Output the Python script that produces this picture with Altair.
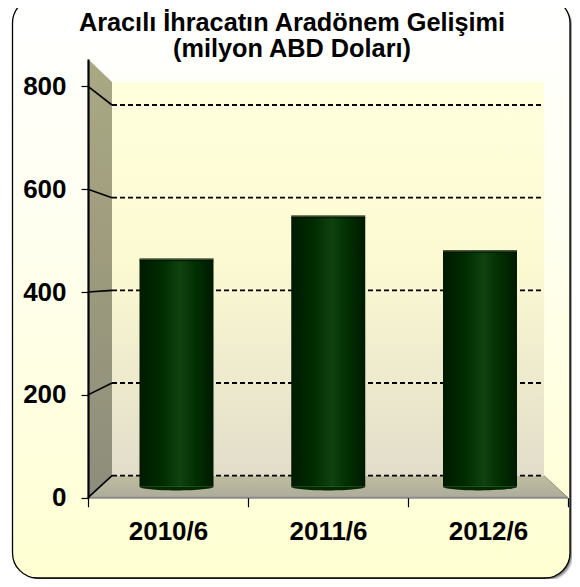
import altair as alt
import pandas as pd

categories = ["2010/6", "2011/6", "2012/6"]
bar_values = [464, 552, 481]
ticks = [0, 200, 400, 600, 800]
title_lines = ["Aracılı İhracatın Aradönem Gelişimi", "(milyon ABD Doları)"]

# projection of the pseudo-3D box, in plot pixels (origin = top of the front axis)
W, H = 480, 438.7
FRONT_MAX = 853.4
BACK_RANGE = [416.7, 46]
MID_RANGE = [427.7, 36.5]
DEPTH = 24

front_scale = alt.Scale(domain=[0, FRONT_MAX], range=[H, 0], nice=False, zero=False)
mid_scale = alt.Scale(domain=[0, 800], range=MID_RANGE, nice=False, zero=False)
back_scale = alt.Scale(domain=[0, 800], range=BACK_RANGE, nice=False, zero=False)


def grad(stops, vertical=True):
    return alt.LinearGradient(
        gradient="linear",
        x1=0, y1=0,
        x2=0 if vertical else 1,
        y2=1 if vertical else 0,
        stops=[alt.GradientStop(offset=o, color=c) for o, c in stops],
    )


def rect(x, x2, y, y2, **kw):
    return alt.Chart(pd.DataFrame({"a": [0]})).mark_rect(**kw).encode(
        x=alt.value(x), x2=alt.value(x2), y=alt.value(y), y2=alt.value(y2)
    )


CARD = (-75.5, 482, -61, 519)
shadows = [
    rect(CARD[0] + 1 + d, CARD[1] + d, CARD[2] + 1 + d, CARD[3] + d,
         cornerRadius=25, fill="#000000", opacity=op)
    for d, op in [(3, 0.15), (2, 0.25), (1, 0.35)]
]
card = rect(*CARD, cornerRadius=25, stroke="#000000", strokeWidth=1.3,
            fill=grad([(0, "#FFFFFF"), (0.3, "#FFFFF4"), (1, "#FFFFD2")]))

wall_df = pd.DataFrame({
    "x": [0, DEPTH],
    "top": [0, 23],
    "bottom": [H, BACK_RANGE[0]],
})
left_wall = alt.Chart(wall_df).mark_area(
    fill=grad([(0, "#AAA984"), (0.5, "#9C9A7C"), (1, "#8E8D7C")]), line=False
).encode(
    x=alt.X("x:Q", scale=None, axis=None),
    y=alt.Y("top:Q", scale=None, axis=None),
    y2="bottom:Q",
)

back_wall = rect(DEPTH, W - DEPTH, 23, BACK_RANGE[0],
                 fill=grad([(0, "#FFFFDD"), (0.45, "#FCFAD2"), (1, "#E1DDCA")]))

floor_df = pd.DataFrame({
    "x": [0, DEPTH, W - DEPTH, W],
    "top": [H, BACK_RANGE[0], BACK_RANGE[0], H],
    "bottom": [H, H, H, H],
})
floor = alt.Chart(floor_df).mark_area(
    fill=grad([(0, "#C0BE9F"), (1, "#ADAB9B")]), line=False
).encode(
    x=alt.X("x:Q", scale=None, axis=None),
    y=alt.Y("top:Q", scale=None, axis=None),
    y2="bottom:Q",
)
floor_edge = alt.Chart(floor_df.iloc[[0, 3]]).mark_line(color="#8A8A8E", strokeWidth=2).encode(
    x=alt.X("x:Q", scale=None, axis=None),
    y=alt.Y("bottom:Q", scale=None, axis=None),
)
floor_diag = alt.Chart(floor_df.iloc[[0, 1]]).mark_line(color="#55554A", strokeWidth=1).encode(
    x=alt.X("x:Q", scale=None, axis=None),
    y=alt.Y("top:Q", scale=None, axis=None),
)
floor_diag_r = alt.Chart(floor_df.iloc[[2, 3]]).mark_line(color="#8F8E80", strokeWidth=1).encode(
    x=alt.X("x:Q", scale=None, axis=None),
    y=alt.Y("top:Q", scale=None, axis=None),
)

tick_df = pd.DataFrame({"tick": ticks})
tick_df["end"] = [
    (H - (BACK_RANGE[0] + (BACK_RANGE[1] - BACK_RANGE[0]) * t / 800)) / H * FRONT_MAX
    for t in ticks
]

grid = alt.Chart(tick_df).mark_rule(
    color="#000000", strokeWidth=1.8, strokeDash=[5, 3]
).encode(
    y=alt.Y("tick:Q", scale=back_scale, axis=None),
    x=alt.value(DEPTH),
    x2=alt.value(W - DEPTH - 2),
)
slants = alt.Chart(tick_df).mark_rule(color="#000000", strokeWidth=1.6).encode(
    x=alt.value(0),
    x2=alt.value(DEPTH),
    y=alt.Y("tick:Q", scale=front_scale, axis=None),
    y2="end:Q",
)

axes = alt.Chart(tick_df).mark_rule(opacity=0).encode(
    y=alt.Y(
        "tick:Q", scale=front_scale, title=None,
        axis=alt.Axis(
            values=ticks, grid=False, zindex=2, domainColor="#000000", domainWidth=2.2,
            tickColor="#000000", tickWidth=1.2, tickSize=7, labelPadding=15,
            labelFont="Liberation Sans", labelFontWeight="bold", labelFontSize=26,
            labelColor="#000000", labelBaseline="middle",
        ),
    ),
)

bar_df = pd.DataFrame({"cat": categories, "value": bar_values})
cyl = grad([(0, "#001A00"), (0.3, "#002C00"), (0.55, "#0F420F"), (0.75, "#023002"), (1, "#001A00")], vertical=False)
x_bar = alt.X(
    "cat:N", sort=categories, title=None, axis=None,
    scale=alt.Scale(type="point", domain=categories, range=[88.5, 392], padding=0),
)
bars = alt.Chart(bar_df).mark_bar(fill=cyl, size=74).encode(
    x=x_bar,
    y=alt.Y("value:Q", scale=mid_scale, axis=None),
    y2=alt.datum(0),
)
bottoms = alt.Chart(bar_df).mark_point(
    shape="M-1,0 A1,0.1 0 0 0 1,0 Z", fill="#012A01", filled=True, size=74 * 74, opacity=1,
).encode(
    x=x_bar,
    y=alt.Y("zero:Q", scale=mid_scale, axis=None),
).transform_calculate(zero="0")
tops = alt.Chart(bar_df).mark_tick(color="#001500", thickness=3, size=74, orient="horizontal").encode(
    x=x_bar,
    y=alt.Y("value:Q", scale=mid_scale, axis=None),
)

x_axis = alt.Chart(bar_df).mark_point(opacity=0).encode(
    x=alt.X(
        "cat:N", sort=categories, title=None,
        scale=alt.Scale(type="band", domain=categories, paddingInner=0, paddingOuter=0),
        axis=alt.Axis(
            zindex=2, domain=False, grid=False, tickBand="extent", labelAngle=0,
            tickColor="#000000", tickWidth=1.2, tickSize=9, labelPadding=12,
            labelFont="Liberation Sans", labelFontWeight="bold", labelFontSize=26,
            labelColor="#000000", labelBaseline="top",
        ),
    ),
)

# title: two real text lines, placed above the plot
title_df = pd.DataFrame({"line": title_lines, "row": [0, 1]})
title = alt.Chart(title_df).mark_text(
    font="Liberation Sans", fontSize=25.3, fontWeight="bold", color="#000000",
    align="center", baseline="alphabetic",
).encode(
    text="line:N",
    x=alt.value(204),
    y=alt.Y("row:O", axis=None, scale=alt.Scale(type="point", domain=[0, 1], range=[-28, -2], padding=0)),
)

chart = alt.layer(
    *shadows, card, left_wall, back_wall, floor, floor_edge, floor_diag, floor_diag_r,
    grid, slants, bars, bottoms, tops, axes, x_axis, title,
).resolve_scale(x="independent", y="independent").resolve_axis(
    x="independent", y="independent"
).properties(
    width=W, height=H,
    autosize=alt.AutoSizeParams(type="none"),
    padding={"left": 80, "top": 51, "right": 4, "bottom": 81},
).configure_view(stroke=None)

chart.save("out.html", embed_options={"renderer": "svg", "actions": False})
